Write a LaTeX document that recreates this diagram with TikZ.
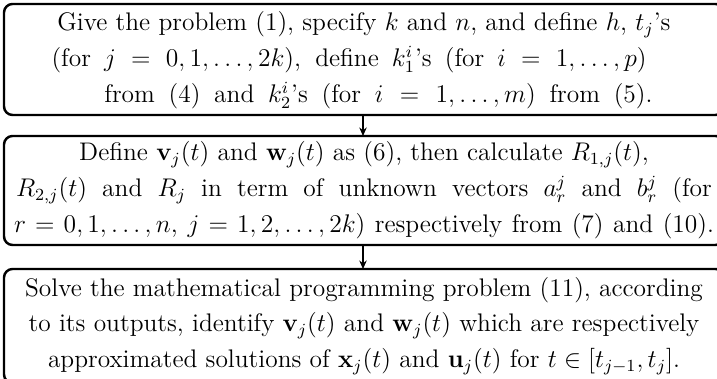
\documentclass[tikz,border=0pt]{standalone}
\usetikzlibrary{arrows.meta}
\begin{document}
\begin{tikzpicture}[x=0.47pt,y=-0.47pt,
  flowbox/.style={draw=black,line width=1.15pt,rounded corners=4pt},
  flowtext/.style={align=center,inner sep=0pt,font=\fontsize{11.95}{16.9}\selectfont},
  flowarrow/.style={line width=0.8pt,-{Stealth[length=4pt,width=3.5pt]}}]
\useasboundingbox (0,0) rectangle (717,379);
\clip (0,0) rectangle (717,379);
\draw[flowbox] (4,4) rectangle (724,115);
\draw[flowbox] (4,136) rectangle (724,245);
\draw[flowbox] (4,269) rectangle (724,383);
\node[flowtext] (t1) at (364,60) {Give the problem (1), specify $k$ and $n$, and define $h$, $t_j$'s\\
\hbox to 293.7pt{\hbox to 279.7pt{(for $j=0,1,\ldots,2k$), define $k_1^i$'s (for $i=1,\ldots,p$)}\hfil}\\
\hbox to 271.2pt{\hfil\hbox to 257.6pt{from (4) and $k_2^i$'s (for $i=1,\ldots,m$) from (5).}}};
\node[flowtext] (t2) at (364,190) {Define $\mathbf{v}_j(t)$ and $\mathbf{w}_j(t)$ as (6), then calculate $R_{1,j}(t)$,\\
\hbox to 327pt{$R_{2,j}(t)$ and $R_j$ in term of unknown vectors $a_r^j$ and $b_r^j$ (for}\\
\hbox to 329pt{$r=0,1,\ldots,n$, $j=1,2,\ldots,2k$) respectively from (7) and (10).}};
\node[flowtext] (t3) at (364,326) {Solve the mathematical programming problem (11), according\\
to its outputs, identify $\mathbf{v}_j(t)$ and $\mathbf{w}_j(t)$ which are respectively\\
approximated solutions of $\mathbf{x}_j(t)$ and $\mathbf{u}_j(t)$ for $t\in[t_{j-1},t_j]$.};
\coordinate (a1s) at (363,115);
\coordinate (a1e) at (363,136);
\coordinate (a2s) at (363,245);
\coordinate (a2e) at (363,269);
\draw[flowarrow] (a1s) -- (a1e);
\draw[flowarrow] (a2s) -- (a2e);
\end{tikzpicture}
\end{document}
